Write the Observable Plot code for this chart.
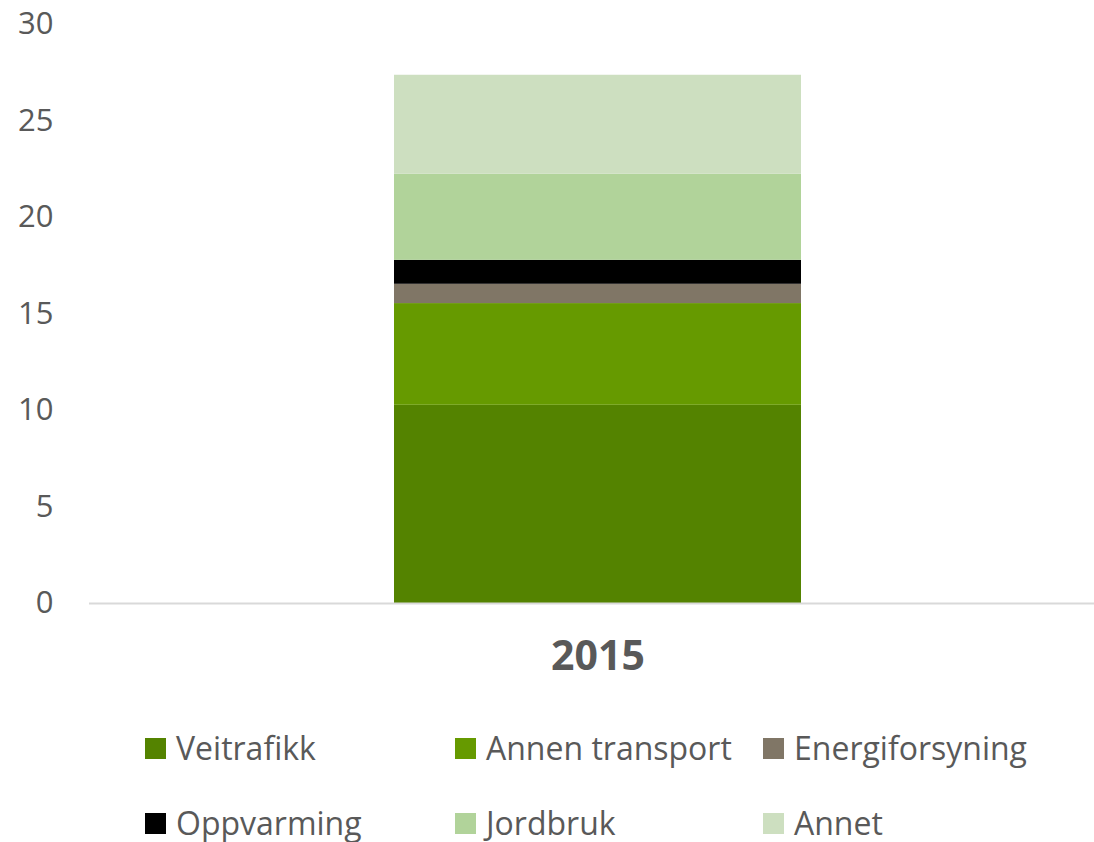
<!DOCTYPE html>
<html>
<head>
<meta charset="utf-8">
<script src="https://cdn.jsdelivr.net/npm/d3@7"></script>
<script src="https://cdn.jsdelivr.net/npm/@observablehq/plot@0.6"></script>
<style>
  html, body { margin: 0; padding: 0; background: #fff; }
  body { width: 1094px; height: 842px; overflow: hidden; font-family: "Open Sans", sans-serif; color: #595959; }
  #chart svg { display: block; }
  .legend { display: grid; grid-template-columns: 310px 308px 300px; grid-auto-rows: 75px; padding-left: 145px; margin-top: 11px; }
  .item { display: flex; align-items: center; font-size: 32px; line-height: 1.15; white-space: nowrap; }
  .sw { width: 21px; height: 21px; margin-right: 10px; flex: none; }
</style>
</head>
<body>
<div id="chart"></div>
<div class="legend" id="legend"></div>
<script>
const years = ["2015"];
const categories = ["Veitrafikk", "Annen transport", "Energiforsyning", "Oppvarming", "Jordbruk", "Annet"];
const values2015 = [10.27, 5.27, 1.0, 1.24, 4.46, 5.13];
const colors = ["#548300", "#669a00", "#807666", "#000000", "#b1d39a", "#cddfc0"];
const yTicks = [0, 5, 10, 15, 20, 25, 30];

const data = categories.map((c, i) => ({year: years[0], category: c, value: values2015[i]}));

const chart = Plot.plot({
  width: 1094,
  height: 700,
  marginLeft: 89,
  marginRight: 0,
  marginTop: 24,
  marginBottom: 97,
  style: {color: "#595959", fontFamily: "Open Sans, sans-serif", background: "#fff"},
  x: {domain: years, range: [89, 1106], padding: 0.428},
  y: {domain: [0, 30]},
  color: {domain: categories, range: colors},
  marks: [
    Plot.barY(data, {x: "year", y: "value", fill: "category", order: categories}),
    Plot.ruleY([0], {stroke: "#d9d9d9", strokeWidth: 2}),
    Plot.axisY({ticks: yTicks, tickSize: 0, tickPadding: 36, fontSize: 31, label: null}),
    Plot.axisX({tickSize: 0, tickPadding: 37, fontSize: 41, fontWeight: "bold", label: null})
  ]
});
document.getElementById("chart").appendChild(chart);

const legend = document.getElementById("legend");
categories.forEach((c, i) => {
  const it = document.createElement("div");
  it.className = "item";
  const sw = document.createElement("span");
  sw.className = "sw";
  sw.style.background = colors[i];
  const t = document.createElement("span");
  t.textContent = c;
  it.appendChild(sw);
  it.appendChild(t);
  legend.appendChild(it);
});
</script>
</body>
</html>
